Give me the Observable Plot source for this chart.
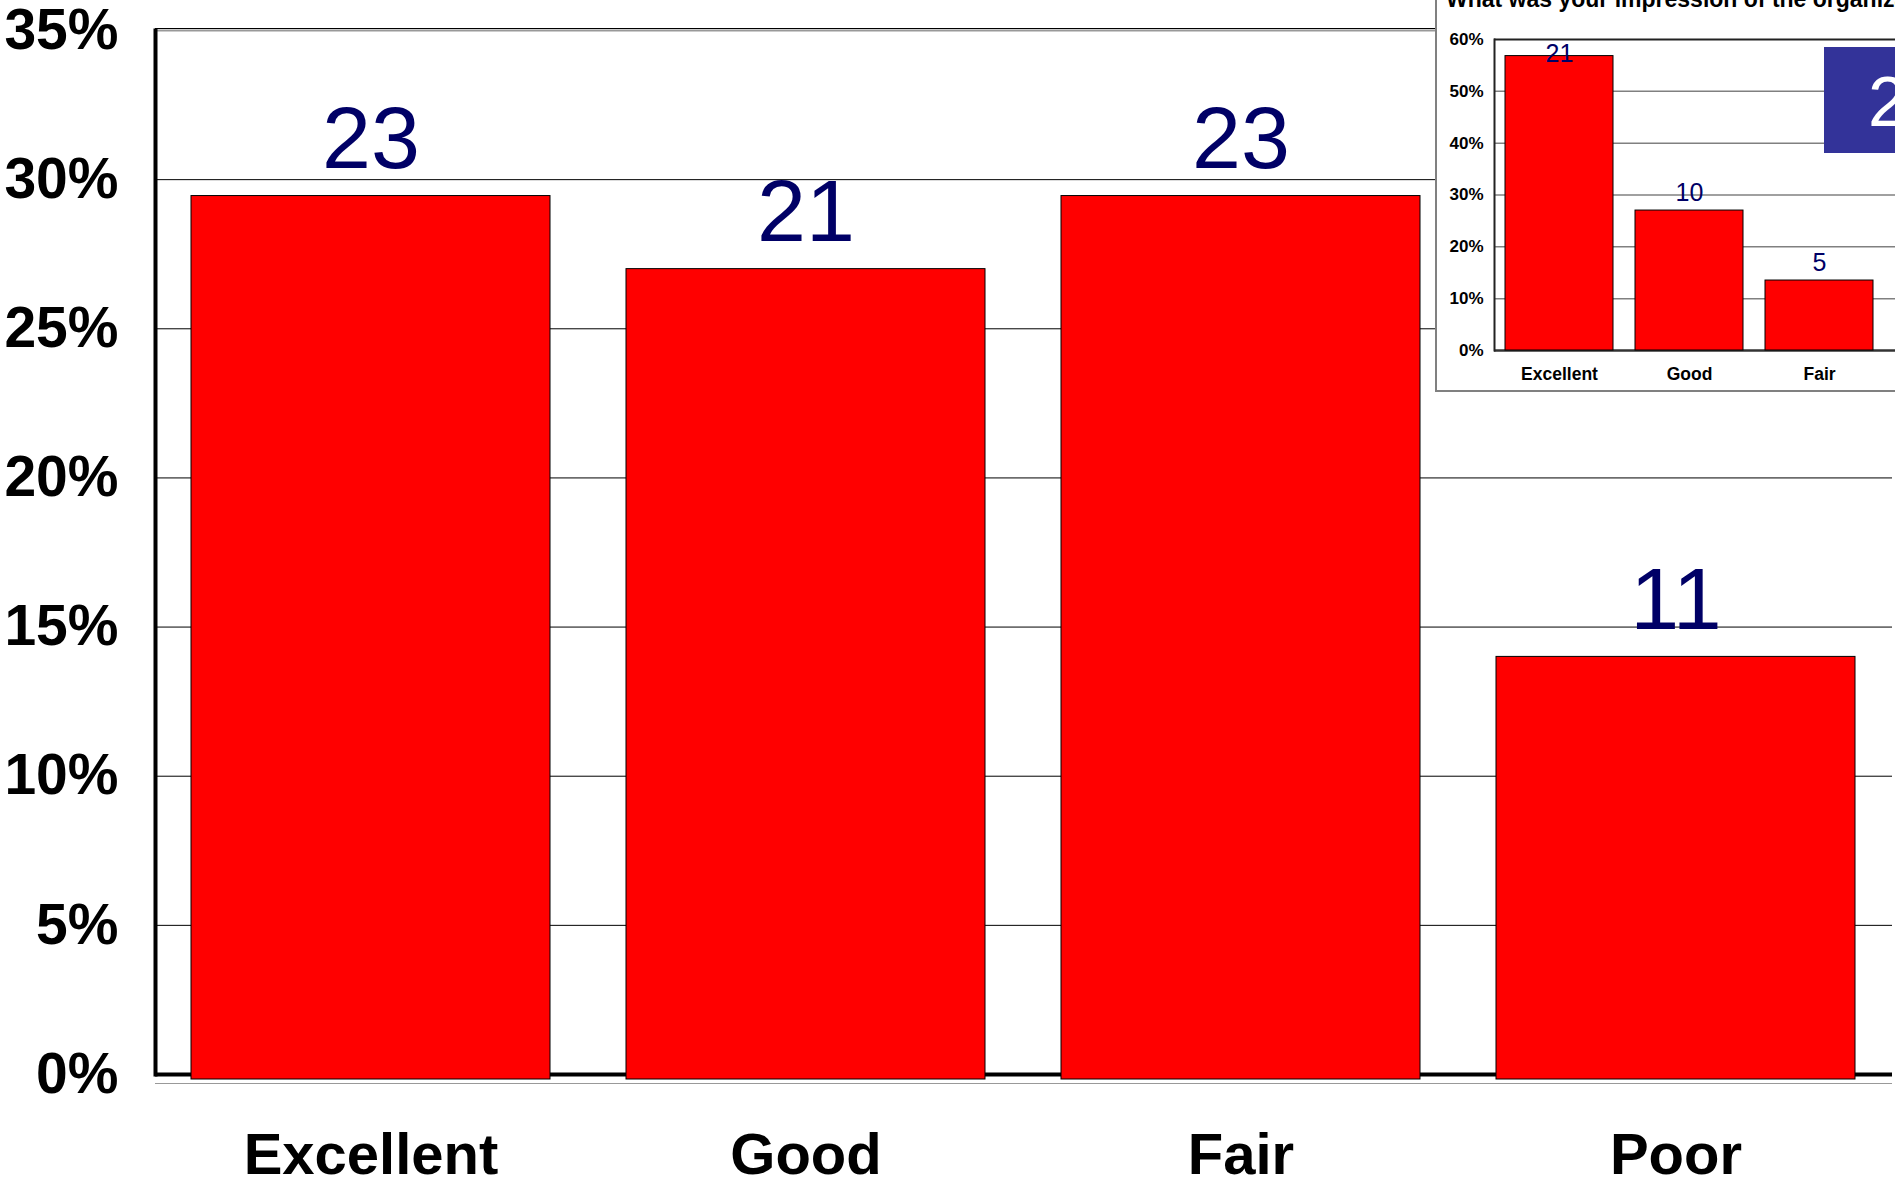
<!DOCTYPE html>
<html><head><meta charset="utf-8">
<script src="https://cdn.jsdelivr.net/npm/d3@7"></script>
<script src="https://cdn.jsdelivr.net/npm/@observablehq/plot@0.6"></script>
<style>
html,body{margin:0;padding:0;background:#fff;}
body{width:1895px;height:1180px;overflow:hidden;position:relative;font-family:"Liberation Sans",Arial,sans-serif;}
#main{position:absolute;left:0;top:0;}
#inset{position:absolute;left:1435px;top:-40px;width:700px;height:432px;box-sizing:border-box;border:2px solid #808080;background:#fff;overflow:hidden;}
#insetPlot{position:absolute;left:0;top:38px;}
#insetTitle{position:absolute;left:1446px;top:-12px;font-size:23px;line-height:23px;font-weight:bold;white-space:nowrap;color:#000;}
#countBox{position:absolute;left:1824px;top:47px;width:120px;height:106px;background:#333399;color:#fff;overflow:hidden;}
#countBox span{position:absolute;left:44px;top:20px;font-size:70px;line-height:70px;}
</style></head>
<body>
<div id="main"></div>
<div id="inset"><div id="insetPlot"></div></div>
<div id="insetTitle"></div>
<div id="countBox"><span></span></div>
<script>
// ---- main chart data ----
const categories = ["Excellent", "Good", "Fair", "Poor"];
const counts = [23, 21, 23, 11];
const percents = [29.45, 27.0, 29.45, 14.0];
const yTicks = [0, 5, 10, 15, 20, 25, 30, 35];

// ---- inset chart data ----
const insetTitle = "What was your impression of the organization?";
const insetCategories = ["Excellent", "Good", "Fair", "Poor"];
const insetCounts = [21, 10, 5];
const insetPercents = [56.8, 27.0, 13.5];
const insetYTicks = [0, 10, 20, 30, 40, 50, 60];
const boxLabel = "2";

const font = '"Liberation Sans", Arial, sans-serif';
const pctFmt = d => d + "%";

const data = categories.map((c, i) => ({category: c, count: counts[i], pct: percents[i]}));

const main = Plot.plot({
  width: 1895, height: 1180,
  marginLeft: 155, marginRight: 3, marginTop: 30, marginBottom: 106,
  style: {fontFamily: font, background: "#fff", color: "#000"},
  x: {domain: categories, paddingInner: 0.174, paddingOuter: 0.082},
  y: {domain: [0, 35]},
  marks: [
    Plot.ruleY(yTicks.filter(t => t > 0 && t < 35), {stroke: "#000", strokeWidth: 1}),
    Plot.ruleY([35], {stroke: "#000", strokeWidth: 1, dy: -2}),
    Plot.ruleY([35], {stroke: "#999", strokeWidth: 2}),
    Plot.ruleY([0], {stroke: "#999", strokeWidth: 1, dy: 9}),
    Plot.ruleY([0], {stroke: "#000", strokeWidth: 4}),
    Plot.frame({anchor: "left", stroke: "#000", strokeWidth: 4}),
    Plot.barY(data, {x: "category", y: "pct", fill: "#ff0000", stroke: "#000", strokeWidth: 1, insetBottom: -5}),
    Plot.text(data, {x: "category", y: "pct", text: d => String(d.count), dy: -28, lineAnchor: "bottom", fontSize: 88, fill: "#000066"}),
    Plot.axisY({ticks: yTicks, tickFormat: pctFmt, tickSize: 0, tickPadding: 37, fontSize: 57, fontWeight: "bold", label: null}),
    Plot.axisX({tickSize: 0, tickPadding: 58, fontSize: 58, fontWeight: "bold", label: null})
  ]
});
document.getElementById("main").appendChild(main);

const insetData = insetCounts.map((n, i) => ({category: insetCategories[i], count: n, pct: insetPercents[i]}));
const labelInside = d => d.pct > 54;

const inset = Plot.plot({
  width: 600, height: 390,
  marginLeft: 57, marginRight: 23, marginTop: 39, marginBottom: 40,
  style: {fontFamily: font, background: "#fff", color: "#000"},
  x: {domain: insetCategories, paddingInner: 0.17, paddingOuter: 0.085},
  y: {domain: [0, 60]},
  marks: [
    Plot.ruleY(insetYTicks.filter(t => t > 0 && t < 60), {stroke: "#808080", strokeWidth: 1.5}),
    Plot.ruleY([60], {stroke: "#222", strokeWidth: 2}),
    Plot.ruleY([0], {stroke: "#333", strokeWidth: 2.5}),
    Plot.frame({anchor: "left", stroke: "#222", strokeWidth: 2}),
    Plot.barY(insetData, {x: "category", y: "pct", fill: "#ff0000", stroke: "#000", strokeWidth: 1}),
    Plot.text(insetData, {filter: d => !labelInside(d), x: "category", y: "pct", text: d => String(d.count), dy: -10, lineAnchor: "bottom", fontSize: 25, fill: "#000066"}),
    Plot.text(insetData, {filter: labelInside, x: "category", y: "pct", text: d => String(d.count), dy: 6, lineAnchor: "bottom", fontSize: 25, fill: "#000066"}),
    Plot.axisY({ticks: insetYTicks, tickFormat: pctFmt, tickSize: 0, tickPadding: 11, fontSize: 17, fontWeight: "bold", label: null}),
    Plot.axisX({tickSize: 0, tickPadding: 16.6, fontSize: 17.5, fontWeight: "bold", label: null})
  ]
});
document.getElementById("insetPlot").appendChild(inset);
document.getElementById("insetTitle").textContent = insetTitle;
document.querySelector("#countBox span").textContent = boxLabel;
</script>
</body></html>
